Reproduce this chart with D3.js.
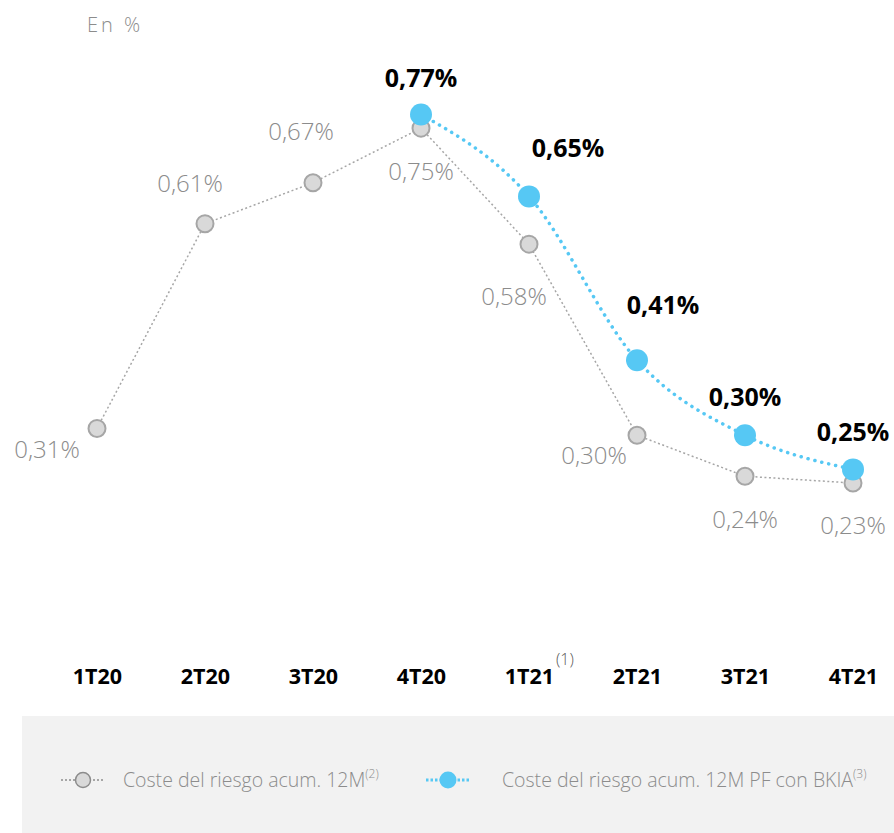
<!DOCTYPE html>
<html>
<head>
<meta charset="utf-8">
<script src="https://cdn.jsdelivr.net/npm/d3@7"></script>
<style>
  html, body { margin: 0; padding: 0; background: #fff; }
  svg { display: block; font-family: "Open Sans", "Noto Sans", sans-serif; }
</style>
</head>
<body>
<svg id="chart" width="894" height="833"></svg>
<script>
// Quarterly cost of risk, trailing 12 months (%)
const quarters = ["1T20", "2T20", "3T20", "4T20", "1T21", "2T21", "3T21", "4T21"];
const costeRiesgo = [0.31, 0.61, 0.67, 0.75, 0.58, 0.30, 0.24, 0.23];
// Pro forma series including Bankia, from 4T20 onwards
const pfQuarters = ["4T20", "1T21", "2T21", "3T21", "4T21"];
const costeRiesgoPF = [0.77, 0.65, 0.41, 0.30, 0.25];
const legendLabels = ["Coste del riesgo acum. 12M", "Coste del riesgo acum. 12M PF con BKIA"];
const legendNotes = ["(2)", "(3)"];

// label offsets relative to each point (dx, dy of text centre)
const grayLabelPos = [[-50, 21], [-15, -40], [-12, -51], [0, 43], [-15, 52], [-43, 20], [0, 43], [0, 43]];
const blueLabelPos = [[0, -36], [39, -48], [26, -55], [0, -38], [0, -37]];

const svg = d3.select("#chart");
const fmt = v => d3.format(".2f")(v).replace(".", ",") + "%";

const x = d3.scalePoint().domain(quarters).range([97, 853]);
const y = d3.scaleLinear().domain([0, 0.8]).range([640, 94]);

// unit caption
svg.append("text")
  .attr("x", 87).attr("y", 32)
  .attr("font-size", 20).attr("font-weight", 300)
  .attr("letter-spacing", 3)
  .attr("fill", "#8c8c8c")
  .text("En %");

const grayData = quarters.map((q, i) => ({ q, v: costeRiesgo[i] }));
const blueData = pfQuarters.map((q, i) => ({ q, v: costeRiesgoPF[i] }));

// gray series
svg.append("path")
  .datum(grayData)
  .attr("fill", "none")
  .attr("stroke", "#a6a6a6")
  .attr("stroke-width", 1.5)
  .attr("stroke-dasharray", "2 2.5")
  .attr("d", d3.line().x(d => x(d.q)).y(d => y(d.v)));

svg.selectAll(".gdot").data(grayData).join("circle")
  .attr("cx", d => x(d.q)).attr("cy", d => y(d.v)).attr("r", 8.5)
  .attr("fill", "#d9d9d9").attr("stroke", "#a6a6a6").attr("stroke-width", 2);

// blue series
svg.append("path")
  .datum(blueData)
  .attr("fill", "none")
  .attr("stroke", "#56c8f4")
  .attr("stroke-width", 3.5)
  .attr("stroke-linecap", "round")
  .attr("stroke-dasharray", "0.1 7")
  .attr("d", d3.line().x(d => x(d.q)).y(d => y(d.v)).curve(d3.curveMonotoneX));

svg.selectAll(".bdot").data(blueData).join("circle")
  .attr("cx", d => x(d.q)).attr("cy", d => y(d.v)).attr("r", 11)
  .attr("fill", "#56c8f4");

// value labels
svg.selectAll(".glab").data(grayData).join("text")
  .attr("x", (d, i) => x(d.q) + grayLabelPos[i][0])
  .attr("y", (d, i) => y(d.v) + grayLabelPos[i][1])
  .attr("dy", "0.35em")
  .attr("text-anchor", "middle")
  .attr("font-size", 24).attr("font-weight", 300)
  .attr("fill", "#8c8c8c")
  .text(d => fmt(d.v));

svg.selectAll(".blab").data(blueData).join("text")
  .attr("x", (d, i) => x(d.q) + blueLabelPos[i][0])
  .attr("y", (d, i) => y(d.v) + blueLabelPos[i][1])
  .attr("dy", "0.35em")
  .attr("text-anchor", "middle")
  .attr("font-size", 25).attr("font-weight", 700)
  .attr("fill", "#000")
  .text(d => fmt(d.v));

// category axis
const axis = svg.append("g").attr("transform", "translate(0,676)")
  .call(d3.axisBottom(x).tickSize(0).tickPadding(0));
axis.select(".domain").remove();
axis.selectAll("text")
  .attr("dy", "0.35em")
  .attr("font-family", "'Open Sans', sans-serif")
  .attr("font-size", 21.5).attr("font-weight", 700)
  .attr("fill", "#000");

svg.append("text")
  .attr("x", x("1T21") + 27).attr("y", 665)
  .attr("font-size", 16).attr("font-weight", 300)
  .attr("fill", "#595959")
  .text("(1)");

// legend
const lg = svg.append("g");
lg.append("rect").attr("x", 22).attr("y", 716).attr("width", 872).attr("height", 117).attr("fill", "#f2f2f2");

const legendY = 780;
const legendItems = [
  { sx: 61, tx: 123, color: "#a6a6a6", w: 2, dash: "2 2", r: 7.5, fill: "#d9d9d9", stroke: "#8c8c8c" },
  { sx: 426, tx: 502, color: "#56c8f4", w: 3, dash: "2.5 2", r: 8.5, fill: "#56c8f4", stroke: "none" }
];
legendItems.forEach((it, i) => {
  const g = lg.append("g");
  g.append("line").attr("x1", it.sx).attr("x2", it.sx + 44).attr("y1", legendY).attr("y2", legendY)
    .attr("stroke", it.color).attr("stroke-width", it.w).attr("stroke-dasharray", it.dash);
  g.append("circle").attr("cx", it.sx + 22).attr("cy", legendY).attr("r", it.r)
    .attr("fill", it.fill).attr("stroke", it.stroke).attr("stroke-width", 1.5);
  const t = g.append("text").attr("x", it.tx).attr("y", legendY).attr("dy", "0.35em")
    .attr("font-size", 19.5).attr("font-weight", 300).attr("fill", "#8c8c8c");
  t.append("tspan").text(legendLabels[i]);
  t.append("tspan").attr("font-size", 12).attr("dy", "-0.75em").text(legendNotes[i]);
});
</script>
</body>
</html>
